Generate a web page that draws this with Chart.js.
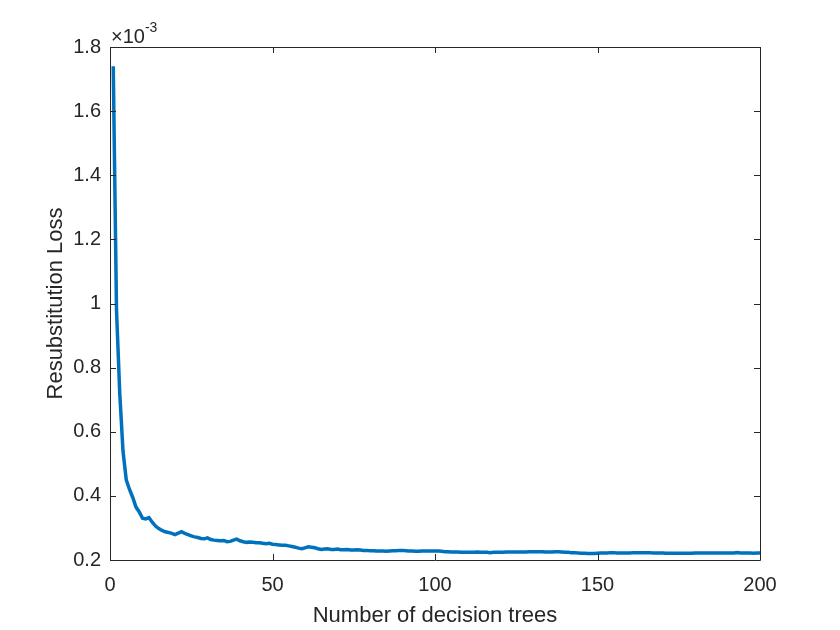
<!DOCTYPE html>
<html>
<head>
<meta charset="utf-8">
<title>Resubstitution Loss</title>
<script src="https://cdn.jsdelivr.net/npm/chart.js@4.4.1/dist/chart.umd.min.js"></script>
<style>
  html, body { margin: 0; padding: 0; background: #fff; }
  #wrap { width: 840px; height: 630px; }
</style>
</head>
<body>
<div id="wrap"><canvas id="lossChart" width="840" height="630"></canvas></div>
<script>
// loss in units of 1e-3, one value per number of trees (1..200)
var lossValues = [
  1.74, 0.98, 0.72, 0.54, 0.45, 0.42, 0.395, 0.365, 0.35, 0.33,
  0.328, 0.332, 0.318, 0.306, 0.298, 0.292, 0.288, 0.286, 0.283, 0.279,
  0.284, 0.288, 0.283, 0.279, 0.275, 0.272, 0.270, 0.267, 0.266, 0.269,
  0.264, 0.262, 0.261, 0.260, 0.261, 0.257, 0.258, 0.262, 0.265, 0.260,
  0.257, 0.255, 0.256, 0.255, 0.254, 0.254, 0.252, 0.251, 0.252, 0.249,
  0.248, 0.247, 0.246, 0.246, 0.244, 0.242, 0.240, 0.237, 0.235, 0.238,
  0.241, 0.240, 0.238, 0.235, 0.233, 0.234, 0.235, 0.233, 0.233, 0.234,
  0.232, 0.232, 0.233, 0.231, 0.231, 0.232, 0.231, 0.230, 0.230, 0.229,
  0.229, 0.228, 0.228, 0.228, 0.227, 0.228, 0.229, 0.229, 0.230, 0.230,
  0.229, 0.228, 0.228, 0.227, 0.227, 0.228, 0.228, 0.228, 0.228, 0.228,
  0.228, 0.227, 0.226, 0.226, 0.225, 0.225, 0.225, 0.224, 0.224, 0.224,
  0.224, 0.224, 0.225, 0.224, 0.224, 0.224, 0.223, 0.224, 0.224, 0.224,
  0.224, 0.225, 0.225, 0.225, 0.225, 0.225, 0.225, 0.225, 0.226, 0.226,
  0.226, 0.226, 0.226, 0.225, 0.225, 0.225, 0.226, 0.226, 0.225, 0.224,
  0.224, 0.223, 0.223, 0.222, 0.221, 0.221, 0.220, 0.220, 0.220, 0.221,
  0.222, 0.222, 0.222, 0.223, 0.223, 0.222, 0.222, 0.222, 0.222, 0.222,
  0.223, 0.223, 0.223, 0.223, 0.223, 0.223, 0.222, 0.222, 0.222, 0.222,
  0.221, 0.221, 0.221, 0.221, 0.221, 0.221, 0.221, 0.221, 0.221, 0.222,
  0.222, 0.222, 0.222, 0.222, 0.222, 0.222, 0.222, 0.222, 0.222, 0.222,
  0.222, 0.222, 0.223, 0.222, 0.222, 0.222, 0.222, 0.221, 0.222, 0.222
];
var xTicks = [0, 50, 100, 150, 200];
var yTicks = [0.2, 0.4, 0.6, 0.8, 1, 1.2, 1.4, 1.6, 1.8];

var points = [];
for (var i = 0; i < lossValues.length; i++) {
  points.push({ x: i + 1, y: lossValues[i] });
}

var ink = '#262626';
var fontFam = '"Liberation Sans", Arial, Helvetica, sans-serif';

// MATLAB-style box with inward ticks on all four sides + exponent label
var boxPlugin = {
  id: 'matlabBox',
  afterDraw: function (chart) {
    var ctx = chart.ctx, a = chart.chartArea;
    var xs = chart.scales.x, ys = chart.scales.y;
    var tl = 6;
    ctx.save();
    ctx.strokeStyle = ink;
    ctx.lineWidth = 1;
    ctx.beginPath();
    ctx.rect(Math.round(a.left) + 0.5, Math.round(a.top) + 0.5,
             Math.round(a.right - a.left), Math.round(a.bottom - a.top));
    xTicks.forEach(function (v) {
      var px = Math.round(xs.getPixelForValue(v)) + 0.5;
      ctx.moveTo(px, a.bottom); ctx.lineTo(px, a.bottom - tl);
      ctx.moveTo(px, a.top); ctx.lineTo(px, a.top + tl);
    });
    yTicks.forEach(function (v) {
      var py = Math.round(ys.getPixelForValue(v)) + 0.5;
      ctx.moveTo(a.left, py); ctx.lineTo(a.left + tl, py);
      ctx.moveTo(a.right, py); ctx.lineTo(a.right - tl, py);
    });
    ctx.stroke();

    ctx.fillStyle = ink;
    ctx.textBaseline = 'alphabetic';
    ctx.textAlign = 'left';
    ctx.font = '20px ' + fontFam;
    var base = '\u00d710';
    ctx.fillText(base, a.left + 1, a.top - 4);
    var w = ctx.measureText(base).width;
    ctx.font = '14px ' + fontFam;
    ctx.fillText('-3', a.left + 1 + w, a.top - 15);
    ctx.restore();
  }
};

new Chart(document.getElementById('lossChart'), {
  type: 'line',
  data: {
    datasets: [{
      data: points,
      borderColor: '#0072BD',
      borderWidth: 3.5,
      pointRadius: 0,
      fill: false,
      tension: 0
    }]
  },
  options: {
    responsive: false,
    animation: false,
    devicePixelRatio: 1,
    layout: { padding: { left: 0, top: 47, right: 80, bottom: 0 } },
    plugins: { legend: { display: false }, tooltip: { enabled: false } },
    scales: {
      x: {
        type: 'linear',
        min: 0, max: 200,
        afterFit: function (s) { s.height = 70; },
        afterBuildTicks: function (s) { s.ticks = xTicks.map(function (v) { return { value: v }; }); },
        grid: { display: false, drawTicks: false },
        border: { display: false },
        ticks: { color: ink, padding: 13, maxRotation: 0, font: { family: fontFam, size: 20 } },
        title: {
          display: true, text: 'Number of decision trees', color: ink,
          font: { family: fontFam, size: 22, lineHeight: 1 }, padding: { top: 0, bottom: 3 }
        }
      },
      y: {
        type: 'linear',
        min: 0.2, max: 1.8,
        afterFit: function (s) { s.width = 110; },
        afterBuildTicks: function (s) { s.ticks = yTicks.map(function (v) { return { value: v }; }); },
        grid: { display: false, drawTicks: false },
        border: { display: false },
        ticks: {
          color: ink, padding: 9, font: { family: fontFam, size: 20 },
          callback: function (v) { return String(Number(v.toFixed(1))); }
        },
        title: {
          display: true, text: 'Resubstitution Loss', color: ink,
          font: { family: fontFam, size: 22, lineHeight: 1 }, padding: { top: 45, bottom: 0 }
        }
      }
    }
  },
  plugins: [boxPlugin]
});
</script>
</body>
</html>
